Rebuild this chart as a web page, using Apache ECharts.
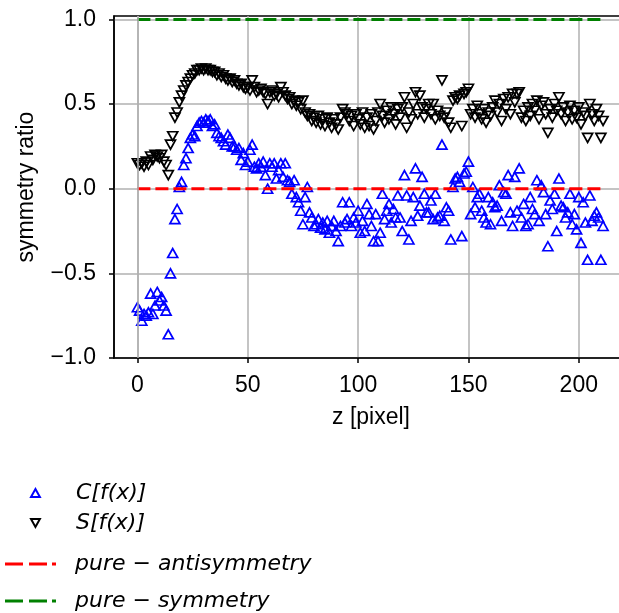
<!DOCTYPE html>
<html>
<head>
<meta charset="utf-8">
<script src="https://cdn.jsdelivr.net/npm/echarts@6/dist/echarts.min.js"></script>
<style>
html,body{margin:0;padding:0;background:#fff;}
#chart{width:619px;height:613px;}
</style>
</head>
<body>
<div id="chart"></div>
<script>
// z [pixel] positions are the index of each value (0..211)
const cValues = [
 -0.70,-0.72,-0.78,-0.74,-0.75,-0.73,-0.62,-0.74,-0.69,-0.61,
 -0.66,-0.64,-0.69,-0.72,-0.86,-0.50,-0.38,-0.18,-0.12,0.01,
 0.04,0.14,0.18,0.24,0.30,0.32,0.31,0.37,0.39,0.40,
 0.39,0.41,0.40,0.41,0.37,0.38,0.33,0.31,0.30,0.28,
 0.26,0.32,0.30,0.25,0.25,0.23,0.24,0.17,0.21,0.14,
 0.16,0.23,0.26,0.13,0.12,0.15,0.13,0.16,0.08,0.00,
 0.15,0.13,0.15,0.06,0.11,0.15,0.07,0.15,0.05,0.04,
 -0.03,0.05,-0.05,-0.08,-0.13,-0.21,-0.05,0.01,-0.14,-0.17,
 -0.22,-0.21,-0.18,-0.23,-0.20,-0.24,-0.19,-0.26,-0.22,-0.19,
 -0.25,-0.31,-0.22,-0.08,-0.20,-0.18,-0.08,-0.22,-0.17,-0.20,
 -0.13,-0.26,-0.19,-0.25,-0.09,-0.15,-0.22,-0.31,-0.15,-0.31,
 -0.26,-0.03,-0.18,-0.13,-0.09,-0.20,-0.12,-0.17,-0.04,-0.17,
 -0.25,0.08,-0.04,-0.30,-0.19,-0.05,0.12,-0.16,-0.10,0.07,
 -0.03,-0.14,-0.14,-0.07,-0.18,-0.03,-0.17,-0.16,0.26,-0.19,
 -0.11,-0.13,-0.30,0.01,0.06,0.07,0.04,-0.28,0.09,0.10,
 0.16,-0.15,0.01,-0.11,-0.05,-0.03,-0.13,-0.17,-0.20,-0.05,
 -0.21,-0.08,-0.11,-0.10,0.02,-0.19,-0.02,-0.03,0.08,-0.14,
 -0.22,0.07,-0.13,0.12,-0.17,-0.09,-0.22,-0.21,-0.05,-0.12,
 -0.15,0.05,-0.19,0.02,-0.02,-0.15,-0.34,-0.07,-0.12,-0.03,
 -0.25,0.06,-0.10,-0.11,-0.17,-0.14,-0.03,-0.21,-0.15,-0.24,
 -0.05,-0.32,-0.08,-0.20,-0.42,-0.04,-0.19,-0.16,-0.14,-0.17,
 -0.42,-0.22
];
const sValues = [
 0.15,0.14,0.15,0.13,0.16,0.14,0.19,0.17,0.20,0.19,
 0.18,0.20,0.16,0.14,0.08,0.26,0.31,0.42,0.45,0.51,
 0.55,0.58,0.61,0.63,0.65,0.67,0.68,0.70,0.70,0.71,
 0.70,0.71,0.70,0.70,0.69,0.69,0.67,0.68,0.66,0.67,
 0.65,0.64,0.65,0.63,0.64,0.62,0.61,0.62,0.60,0.59,
 0.60,0.58,0.64,0.60,0.57,0.58,0.59,0.57,0.56,0.50,
 0.57,0.58,0.55,0.56,0.54,0.60,0.57,0.55,0.53,0.54,
 0.50,0.52,0.49,0.51,0.47,0.52,0.45,0.43,0.44,0.40,
 0.42,0.39,0.43,0.38,0.41,0.37,0.42,0.39,0.36,0.41,
 0.38,0.35,0.42,0.47,0.45,0.44,0.40,0.43,0.37,0.44,
 0.41,0.38,0.45,0.36,0.42,0.37,0.44,0.35,0.40,0.45,
 0.50,0.43,0.39,0.46,0.41,0.48,0.44,0.38,0.47,0.42,
 0.48,0.54,0.36,0.45,0.41,0.50,0.57,0.44,0.55,0.48,
 0.42,0.47,0.50,0.44,0.50,0.41,0.46,0.43,0.64,0.42,
 0.45,0.39,0.36,0.52,0.54,0.53,0.55,0.37,0.56,0.57,
 0.59,0.44,0.47,0.42,0.49,0.44,0.41,0.47,0.39,0.45,
 0.43,0.48,0.52,0.45,0.50,0.40,0.53,0.47,0.54,0.44,
 0.56,0.51,0.56,0.57,0.42,0.46,0.40,0.48,0.43,0.50,
 0.46,0.52,0.41,0.49,0.51,0.44,0.33,0.47,0.42,0.50,
 0.46,0.54,0.44,0.48,0.40,0.45,0.49,0.41,0.46,0.42,
 0.48,0.38,0.45,0.43,0.30,0.50,0.44,0.40,0.47,0.43,
 0.30,0.40
];
const refLineX = [0, 212];
const antisymmetryLine = [0, 0];
const symmetryLine = [1, 1];
const xTicks = [0, 50, 100, 150, 200];
const yTicks = [-1.0, -0.5, 0.0, 0.5, 1.0];
const seriesNames = ['C[f(x)]', 'S[f(x)]', 'pure \u2212 antisymmetry', 'pure \u2212 symmetry'];

const chart = echarts.init(document.getElementById('chart'), null, {renderer: 'canvas'});
const tickFont = {fontFamily: 'Liberation Sans, Arial, sans-serif', fontSize: 23, color: '#000'};
const legendFont = {fontFamily: 'DejaVu Sans', fontStyle: 'italic', fontSize: 22, color: '#000'};
const gridColor = '#b0b0b0';
const dashIcon = 'path://M0,0h18v3h-18z M24,0h18v3h-18z M47,0h4v3h-4z';
const upIcon = 'path://M5,0L10,9L0,9Z';
const downIcon = 'path://M0,0L10,0L5,9Z';
function fmtY(v) { const s = Number(v).toFixed(1); return s.replace('-', '\u2212'); }
function markerLegend(name, centerY, icon) {
  return {
    data: [{name: name, icon: icon}], orient: 'vertical', left: 30, top: centerY - 10, padding: 0,
    itemWidth: 9, itemHeight: 8, selectedMode: false,
    textStyle: Object.assign({}, legendFont, {padding: [0, 0, 0, 31]})
  };
}
function lineLegend(name, centerY) {
  return {
    data: [{name: name, icon: dashIcon}], orient: 'vertical', left: 5, top: centerY - 10, padding: 0,
    itemWidth: 51, itemHeight: 3, selectedMode: false,
    textStyle: Object.assign({}, legendFont, {padding: [0, 0, 0, 14]})
  };
}
const option = {
  animation: false,
  backgroundColor: '#fff',
  grid: {left: 114, top: 16, width: 514, height: 342, show: true, borderColor: '#000', borderWidth: 1.5,
         containLabel: false, outerBoundsMode: 'none'},
  xAxis: {
    type: 'value', min: -10.6, max: 222.3,
    name: 'z [pixel]', nameLocation: 'middle', nameGap: 48,
    nameTextStyle: tickFont,
    axisLine: {show: true, onZero: false, lineStyle: {color: '#000', width: 1.5}},
    axisTick: {show: true, customValues: xTicks, length: 5, lineStyle: {color: '#000', width: 1.5}},
    axisLabel: Object.assign({customValues: xTicks, margin: 16}, tickFont),
    splitLine: {show: true, lineStyle: {color: gridColor, width: 1.5}}
  },
  yAxis: {
    type: 'value', min: -1.0, max: 1.02,
    name: 'symmetry ratio', nameLocation: 'middle', nameGap: 76, nameRotate: 90,
    nameTextStyle: tickFont,
    axisLine: {show: true, onZero: false, lineStyle: {color: '#000', width: 1.5}},
    axisTick: {show: true, customValues: yTicks, length: 5, lineStyle: {color: '#000', width: 1.5}},
    axisLabel: Object.assign({customValues: yTicks, margin: 18, formatter: fmtY}, tickFont),
    splitLine: {show: true, lineStyle: {color: gridColor, width: 1.5}}
  },
  legend: [
    markerLegend(seriesNames[0], 492, upIcon),
    markerLegend(seriesNames[1], 522, downIcon),
    lineLegend(seriesNames[2], 563),
    lineLegend(seriesNames[3], 600)
  ],
  series: [
    {
      name: 'gridline', type: 'line', data: [], silent: true, z: 0,
      markLine: {
        silent: true, symbol: 'none', label: {show: false},
        lineStyle: {color: gridColor, width: 1.5, type: 'solid'},
        data: [{xAxis: xTicks[0]}]
      }
    },
    {
      name: seriesNames[0], type: 'scatter', symbol: 'triangle', symbolSize: [10, 9],
      data: cValues.map((v, i) => [i, v]),
      itemStyle: {color: 'rgba(0,0,0,0)', borderColor: '#0000ff', borderWidth: 1.7, opacity: 1},
      z: 2
    },
    {
      name: seriesNames[1], type: 'scatter', symbol: 'triangle', symbolRotate: 180, symbolSize: [10, 9],
      data: sValues.map((v, i) => [i, v]),
      itemStyle: {color: 'rgba(0,0,0,0)', borderColor: '#000000', borderWidth: 1.7, opacity: 1},
      z: 3
    },
    {
      name: seriesNames[2], type: 'line', symbol: 'none',
      data: refLineX.map((x, i) => [x, antisymmetryLine[i]]),
      lineStyle: {color: '#ff0000', width: 3, type: [13, 5]},
      itemStyle: {color: '#ff0000'},
      z: 4
    },
    {
      name: seriesNames[3], type: 'line', symbol: 'none',
      data: refLineX.map((x, i) => [x, symmetryLine[i]]),
      lineStyle: {color: '#008000', width: 3, type: [13, 5]},
      itemStyle: {color: '#008000'},
      z: 4
    }
  ]
};
chart.setOption(option);
</script>
</body>
</html>
